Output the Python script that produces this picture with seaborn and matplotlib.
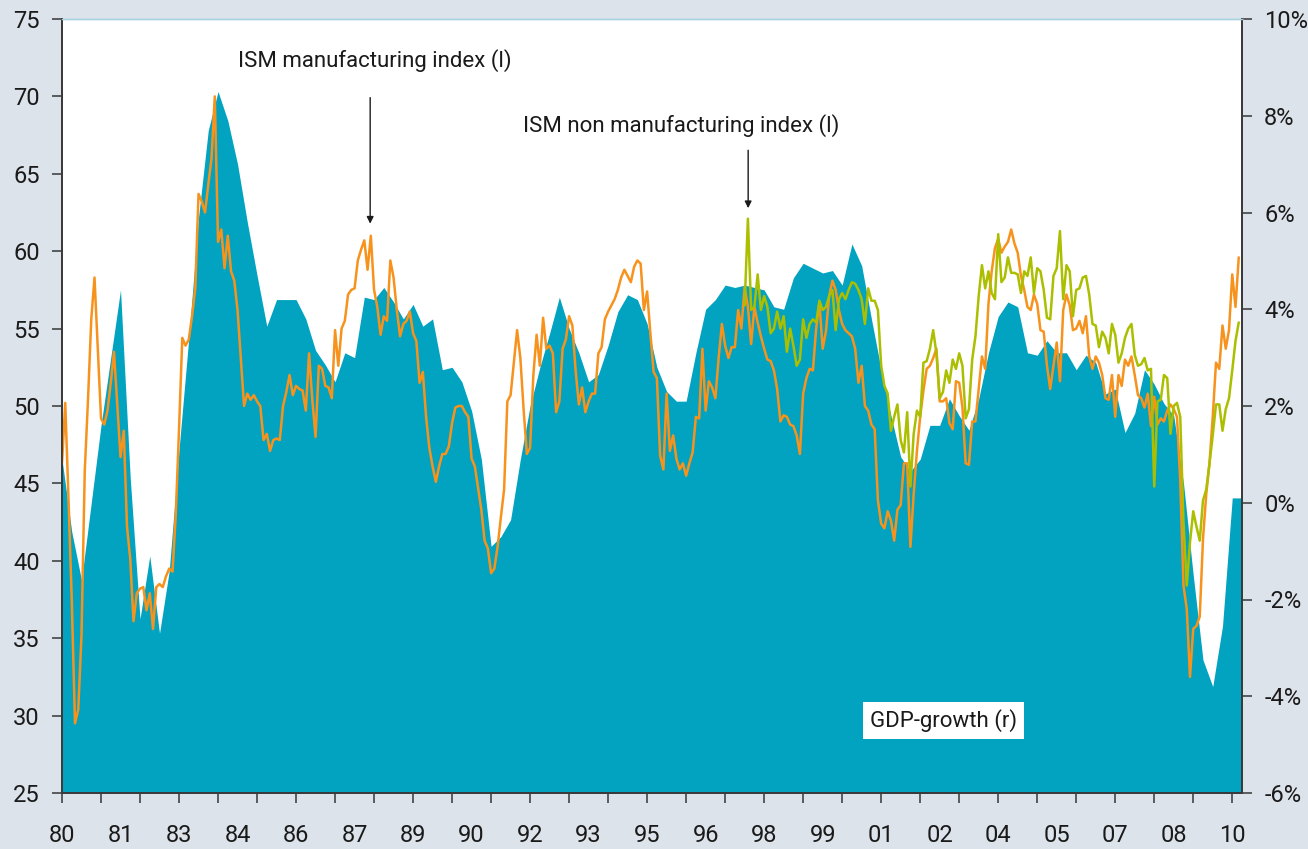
import numpy as np
import pandas as pd
import matplotlib
matplotlib.use("Agg")
import matplotlib.pyplot as plt
import seaborn as sns
from matplotlib import font_manager
from matplotlib.ticker import FixedLocator

# ISM manufacturing index, monthly, Jan 1980 - Mar 2010 (left axis)
ISM_MANUF = [
    46.3, 50.2, 44.0, 37.5, 29.5, 30.4, 35.2, 45.8, 50.4, 55.6, 58.3, 53.7,  # 1980
    49.2, 48.8, 49.7, 51.5, 53.5, 50.1, 46.7, 48.4, 42.2, 40.1, 36.1, 37.9,  # 1981
    38.2, 38.3, 36.8, 37.9, 35.6, 38.3, 38.5, 38.3, 39.0, 39.5, 39.3, 43.0,  # 1982
    48.5, 54.4, 53.9, 54.3, 55.8, 57.6, 63.7, 63.2, 62.5, 64.3, 66.0, 70.0,  # 1983
    60.6, 61.4, 58.9, 61.0, 58.7, 58.1, 56.2, 53.1, 50.0, 50.8, 50.4, 50.7,  # 1984
    50.3, 50.0, 47.8, 48.2, 47.1, 47.8, 47.9, 47.8, 50.0, 50.9, 52.0, 50.7,  # 1985
    51.3, 51.1, 51.0, 49.7, 53.4, 50.4, 48.0, 52.6, 52.4, 51.3, 51.2, 50.5,  # 1986
    54.9, 52.6, 55.0, 55.5, 57.2, 57.5, 57.6, 59.4, 60.1, 60.7, 58.8, 61.0,  # 1987
    57.5, 56.4, 54.6, 55.8, 55.5, 59.4, 58.3, 56.2, 54.5, 55.3, 55.5, 56.1,  # 1988
    54.7, 54.2, 51.5, 52.2, 49.3, 47.3, 46.1, 45.1, 46.1, 46.9, 46.9, 47.4,  # 1989
    48.9, 49.9, 50.0, 50.0, 49.6, 49.3, 46.6, 46.1, 44.7, 43.3, 41.3, 40.8,  # 1990
    39.2, 39.5, 40.9, 42.8, 44.6, 50.3, 50.7, 52.8, 54.9, 53.1, 49.8, 46.9,  # 1991
    47.3, 52.0, 54.6, 52.6, 55.7, 53.7, 53.9, 53.4, 49.6, 50.3, 53.7, 54.3,  # 1992
    55.8, 55.2, 52.3, 50.1, 51.2, 49.6, 50.3, 50.8, 50.8, 53.4, 53.8, 55.6,  # 1993
    56.1, 56.5, 56.9, 57.5, 58.3, 58.8, 58.4, 58.0, 59.0, 59.4, 59.2, 56.2,  # 1994
    57.4, 54.7, 52.2, 51.8, 46.8, 45.9, 50.8, 47.1, 48.1, 46.6, 45.9, 46.3,  # 1995
    45.5, 46.3, 47.0, 49.3, 49.2, 53.7, 49.7, 51.6, 51.2, 50.5, 53.1, 55.3,  # 1996
    53.9, 53.1, 53.8, 53.8, 56.2, 55.0, 57.7, 56.4, 54.0, 56.4, 55.4, 54.5,  # 1997
    53.7, 53.0, 52.9, 52.3, 51.1, 49.0, 49.4, 49.3, 48.8, 48.7, 48.1, 46.9,  # 1998
    50.8, 51.8, 52.4, 52.3, 55.0, 56.7, 53.7, 54.8, 57.1, 58.1, 57.5, 56.2,  # 1999
    55.3, 54.9, 54.7, 54.5, 53.7, 51.5, 52.6, 50.0, 49.7, 48.8, 48.5, 43.9,  # 2000
    42.4, 42.1, 43.2, 42.6, 41.3, 43.3, 43.6, 46.3, 46.3, 40.9, 44.3, 47.1,  # 2001
    49.3, 51.0, 52.4, 52.6, 53.1, 53.7, 50.3, 50.3, 50.5, 48.9, 48.5, 51.6,  # 2002
    51.5, 49.9, 46.3, 46.2, 49.0, 49.0, 51.1, 53.2, 52.4, 56.6, 58.7, 60.2,  # 2003
    60.8, 59.9, 60.3, 60.6, 61.4, 60.5, 59.9, 58.4, 57.5, 56.4, 56.2, 57.2,  # 2004
    56.6, 54.9, 54.8, 52.6, 51.1, 52.6, 54.1, 51.6, 56.2, 57.2, 56.5, 54.9,  # 2005
    55.0, 55.5, 54.7, 55.8, 53.2, 52.4, 53.2, 52.8, 52.0, 50.5, 50.4, 52.0,  # 2006
    49.3, 52.0, 51.3, 53.0, 52.6, 53.2, 52.0, 50.7, 50.5, 49.9, 50.8, 48.7,  # 2007
    50.6, 48.8, 49.2, 49.0, 49.7, 50.1, 49.8, 49.3, 45.2, 38.4, 36.9, 32.5,  # 2008
    35.6, 35.8, 36.4, 41.4, 44.3, 46.3, 49.3, 52.8, 52.4, 55.2, 53.7, 54.9,  # 2009
    58.5, 56.4, 59.6,                                                        # 2010
]

# ISM non-manufacturing index, monthly, Jul 1997 - Mar 2010 (left axis)
ISM_NONMANUF_START = 1997 + 6 / 12
ISM_NONMANUF = [
    56.5, 62.1, 56.2, 56.4, 58.5, 56.2,                                      # 1997 H2
    57.1, 56.4, 54.7, 55.0, 56.1, 55.0, 55.8, 53.5, 55.0, 53.9, 52.6, 53.0,  # 1998
    55.6, 54.4, 55.3, 55.6, 55.4, 56.8, 56.2, 56.4, 57.1, 57.5, 54.9, 56.9,  # 1999
    57.3, 56.9, 57.5, 58.0, 57.9, 57.5, 56.9, 55.3, 57.6, 56.8, 56.8, 56.2,  # 2000
    52.6, 51.3, 50.8, 48.4, 49.3, 50.1, 47.8, 47.0, 49.6, 44.8, 48.2, 49.7,  # 2001
    49.3, 52.8, 52.9, 53.7, 54.9, 53.4, 50.5, 50.9, 52.3, 51.5, 53.0, 52.4,  # 2002
    53.4, 52.6, 49.2, 49.8, 53.0, 54.5, 57.1, 59.1, 57.6, 58.7, 57.3, 56.9,  # 2003
    61.1, 58.0, 58.3, 59.6, 58.6, 58.6, 58.5, 57.3, 58.7, 58.4, 59.6, 57.3,  # 2004
    58.9, 58.7, 57.5, 55.7, 55.6, 58.4, 58.9, 61.3, 56.9, 59.1, 58.7, 55.8,  # 2005
    57.5, 57.6, 58.3, 58.4, 57.2, 55.3, 55.2, 53.8, 54.8, 54.4, 53.4, 55.3,  # 2006
    54.6, 52.8, 53.4, 54.4, 55.0, 55.3, 53.3, 52.6, 52.7, 53.1, 52.3, 52.4,  # 2007
    44.8, 50.3, 50.4, 52.0, 51.8, 48.2, 50.0, 50.2, 49.3, 42.5, 38.4, 41.2,  # 2008
    43.2, 42.2, 41.3, 43.9, 44.6, 46.3, 48.1, 50.1, 50.1, 48.4, 49.8, 50.5,  # 2009
    52.3, 54.2, 55.4,                                                        # 2010
]

# GDP growth y/y in %, quarterly from 1980 Q1 (right axis)
GDP_GROWTH = [
    0.9, -0.6, -1.6, 0.0, 1.6, 3.0, 4.4, 0.5, -2.4, -1.1,
    -2.7, -1.4, 1.1, 3.4, 5.9, 7.7, 8.5, 7.9, 7.0, 5.8,
    4.7, 3.65, 4.2, 4.2, 4.2, 3.8, 3.15, 2.85, 2.5, 3.1,
    3.0, 4.25, 4.2, 4.45, 4.15, 3.8, 4.1, 3.65, 3.8, 2.75,
    2.8, 2.5, 1.9, 0.9, -0.9, -0.7, -0.35, 0.9, 2.0, 2.8,
    3.5, 4.25, 3.6, 3.1, 2.5, 2.65, 3.25, 3.95, 4.3, 4.2,
    3.7, 2.8, 2.3, 2.1, 2.1, 3.1, 4.0, 4.2, 4.5, 4.45,
    4.5, 4.45, 4.4, 4.05, 4.0, 4.65, 4.95, 4.85, 4.75, 4.8,
    4.5, 5.35, 4.9, 3.8, 2.75, 1.8, 0.95, 0.65, 0.9, 1.6,
    1.6, 2.15, 1.8, 1.5, 2.15, 3.1, 3.85, 4.15, 4.05, 3.1,
    3.05, 3.35, 3.1, 3.1, 2.75, 3.05, 2.9, 2.25, 2.35, 1.45,
    1.85, 2.75, 2.45, 2.05, 1.8, 0.4, -1.5, -3.25, -3.8, -2.55,
    0.1,
]

X_LABELS = ["80", "81", "83", "84", "86", "87", "89", "90", "92", "93", "95",
            "96", "98", "99", "01", "02", "04", "05", "07", "08", "10"]
LEFT_TICKS = [25, 30, 35, 40, 45, 50, 55, 60, 65, 70, 75]
RIGHT_TICKS = [-6, -4, -2, 0, 2, 4, 6, 8, 10]

BG = "#dde3ea"
TEAL = "#01a3c0"
ORANGE = "#f7931d"
GREEN = "#abbf00"
INK = "#1a1a1a"

sns.set_theme(style="white")
available = {f.name for f in font_manager.fontManager.ttflist}
FONT = next((f for f in ("Liberation Sans Narrow", "Roboto") if f in available), "DejaVu Sans")
plt.rcParams["font.family"] = [FONT, "DejaVu Sans"]
TICK_SIZE = 17
TEXT_SIZE = 16

df_m = pd.DataFrame({"year": 1980 + np.arange(len(ISM_MANUF)) / 12, "value": ISM_MANUF})
df_nm = pd.DataFrame({"year": ISM_NONMANUF_START + np.arange(len(ISM_NONMANUF)) / 12,
                      "value": ISM_NONMANUF})
gdp_x = 1980 + 0.25 * np.arange(len(GDP_GROWTH))
XMAX = 2010.25

fig, ax_gdp = plt.subplots(figsize=(13.08, 8.49), dpi=100)
fig.patch.set_facecolor(BG)
fig.subplots_adjust(left=62 / 1308, right=1242 / 1308, bottom=56 / 849, top=830 / 849)
ax_ism = ax_gdp.twinx()

# GDP area (last value held to the end of the axis)
ax_gdp.fill_between(np.append(gdp_x, XMAX), np.append(GDP_GROWTH, GDP_GROWTH[-1]), -6,
                    color=TEAL, lw=0)
ax_gdp.set_facecolor("white")
ax_gdp.set_ylim(-6, 10)
ax_gdp.set_yticks(RIGHT_TICKS)
ax_gdp.set_yticklabels([f"{v}%" for v in RIGHT_TICKS])
ax_gdp.yaxis.tick_right()

sns.lineplot(data=df_m, x="year", y="value", ax=ax_ism, color=ORANGE, lw=1.8, legend=False)
sns.lineplot(data=df_nm, x="year", y="value", ax=ax_ism, color=GREEN, lw=1.8, legend=False)
ax_ism.set_ylim(25, 75)
ax_ism.set_yticks(LEFT_TICKS)
ax_ism.yaxis.tick_left()
ax_ism.set_xlabel("")
ax_ism.set_ylabel("")

ax_gdp.set_xlim(1980, XMAX)
ax_gdp.xaxis.set_major_locator(FixedLocator([1980 + 1.5 * i for i in range(len(X_LABELS))]))
ax_gdp.set_xticklabels(X_LABELS)
ax_gdp.xaxis.set_minor_locator(FixedLocator(list(range(1980, 2011))))
ax_gdp.xaxis.remove_overlapping_locs = False

ax_gdp.tick_params(axis="x", which="major", length=0, pad=22, labelsize=TICK_SIZE,
                   labelcolor=INK)
ax_gdp.tick_params(axis="x", which="minor", length=7, width=1.2, color="#444444",
                   direction="out", bottom=True)
ax_gdp.tick_params(axis="y", length=7, width=1.2, color="#444444", direction="out",
                   pad=9, labelsize=TICK_SIZE, labelcolor=INK)
ax_ism.tick_params(axis="y", length=7, width=1.2, color="#444444", direction="out",
                   pad=9, labelsize=TICK_SIZE, labelcolor=INK)

for ax in (ax_gdp, ax_ism):
    for side in ("left", "right", "bottom"):
        ax.spines[side].set_color("#3a3a3a")
        ax.spines[side].set_linewidth(1.3)
    ax.spines["top"].set_color("#a9d3e2")
    ax.spines["top"].set_linewidth(1.0)

# annotations
ax_ism.text(1988.03, 72.35, "ISM manufacturing index (l)", ha="center", va="center",
            fontsize=TEXT_SIZE, color=INK)
ax_ism.annotate("", xy=(1987.9, 61.6), xytext=(1987.9, 70.1),
                arrowprops=dict(arrowstyle="-|>", color=INK, lw=1.0, mutation_scale=10))
ax_ism.text(1995.87, 68.1, "ISM non manufacturing index (l)", ha="center", va="center",
            fontsize=TEXT_SIZE, color=INK)
ax_ism.annotate("", xy=(1997.59, 62.6), xytext=(1997.59, 66.7),
                arrowprops=dict(arrowstyle="-|>", color=INK, lw=1.0, mutation_scale=10))
ax_ism.text(2002.6, 29.7, "GDP-growth (r)", ha="center", va="center", fontsize=TEXT_SIZE,
            color=INK, bbox=dict(facecolor="white", edgecolor="none", pad=5))

fig.savefig("out.png", dpi=100, facecolor=BG)
